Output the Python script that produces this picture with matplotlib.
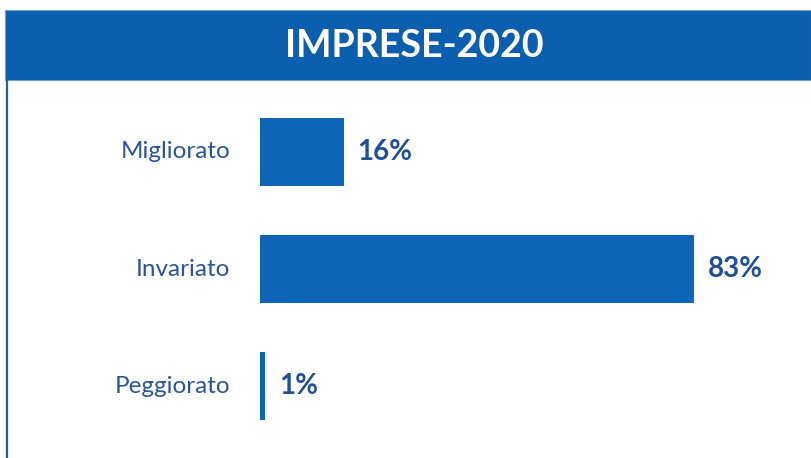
import matplotlib.pyplot as plt
from matplotlib.patches import Rectangle
from matplotlib.lines import Line2D

# survey answers, top to bottom
categories = ['Migliorato', 'Invariato', 'Peggiorato']
shares = [16, 83, 1]
title = 'IMPRESE-2020'

W, H = 811, 458
fig = plt.figure(figsize=(W / 100, H / 100), dpi=100)
fig.patch.set_facecolor('white')

# header band
fig.patches.append(Rectangle((5 / W, 1 - 80 / H), 1 - 5 / W, 70 / H,
                             transform=fig.transFigure, facecolor='#0b5fae',
                             edgecolor='#6f9fd0', linewidth=0.8))
fig.text(414 / W, 1 - 46 / H, title, ha='center', va='center',
         color='white', fontsize=27, fontweight='bold', family='Lato')

# thin frame line on the left
fig.lines.append(Line2D([7 / W, 7 / W], [0, 1 - 80 / H], transform=fig.transFigure,
                        color='#1a62b0', linewidth=1.6))

ax = fig.add_axes([260 / W, 0, 523 / W, 378 / H])
ypos = list(range(len(categories)))
bars = ax.barh(ypos, shares, height=0.58, color='#0f66b8')
ax.set_xlim(0, 100)
ax.set_ylim(2.615, -0.615)

for y, v in zip(ypos, shares):
    ax.text(v + 2.6, y, f'{v}%', ha='left', va='center', color='#1f4f9a',
            fontsize=20, fontweight='bold', family='Lato')
for y, c in zip(ypos, categories):
    ax.text(-5.7, y, c, ha='right', va='center', color='#2a559c',
            fontsize=17.5, family='Lato')

ax.axis('off')
fig.savefig('out.png', dpi=100, facecolor='white')
